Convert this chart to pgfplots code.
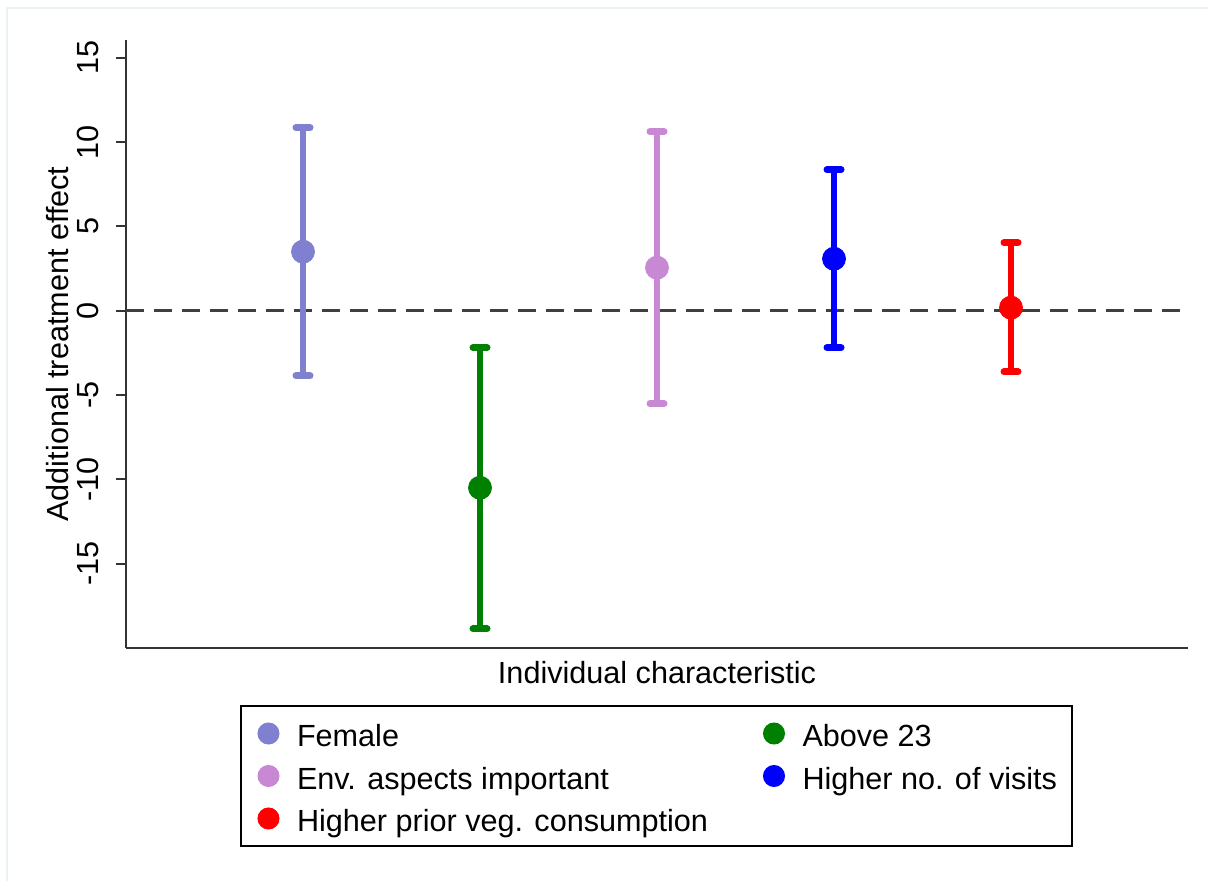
\documentclass[border=0pt]{standalone}
\usepackage{fontspec}
\setmainfont{Liberation Sans}
\usepackage{pgfplots}
\pgfplotsset{compat=1.18}
\definecolor{cfem}{RGB}{128,128,208}
\definecolor{cabove}{RGB}{0,128,0}
\definecolor{cenv}{RGB}{200,136,212}
\definecolor{cvis}{RGB}{0,0,255}
\definecolor{cveg}{RGB}{255,0,0}
\definecolor{cframe}{RGB}{234,242,242}
\newcommand{\fs}{\fontsize{15.3}{18}\selectfont}
\begin{document}
\begin{tikzpicture}
\path[use as bounding box] (0,0) rectangle (604pt,440.5pt);
\draw[line width=1pt, cframe] (3.5pt,0) -- (3.5pt,436.5pt) -- (604pt,436.5pt);
\begin{axis}[
 at={(63pt,116.5pt)}, anchor=south west,
 scale only axis, width=531pt, height=304pt,
 xmin=0, xmax=6, ymin=-20, ymax=16.05,
 axis x line*=bottom, axis y line*=left,
 axis line style={-, line width=1pt, color=black!80},
 xtick=\empty,
 ytick={-15,-10,-5,0,5,10,15},
 yticklabels={-15,-10,-5,0,5,10,15},
 tick align=outside,
 major tick length=5pt,
 every tick/.style={line width=1pt, color=black!80},
 yticklabel style={rotate=90, anchor=south, inner sep=0pt, font=\fs},
 yticklabel shift=8.5pt,
 xlabel={Individual characteristic},
 ylabel={Additional treatment effect},
 every axis x label/.style={at={(axis description cs:0.5,-0.0411)}, anchor=center, font=\fs},
 every axis y label/.style={at={(axis description cs:-0.064,0.5)}, rotate=90, anchor=center, font=\fs},
 clip=false,
 legend columns=2,
 legend cell align=left,
 legend style={at={(axis description cs:0.10734,-0.09375)}, anchor=north west,
   draw=black, line width=1pt, inner xsep=8.75pt, inner ysep=6.75pt, row sep=7.25pt,
   font=\fs, nodes={inner sep=0pt, text height=13.75pt, text depth=0.25pt}},
 legend image code/.code={\draw[#1, mark size=5pt] plot coordinates {(5pt,0pt)}; \path[draw=none, fill=none] (0pt,0pt) (19.25pt,0pt);},
]
\addplot[black!75, line width=1.3pt, dash pattern=on 9pt off 5pt, forget plot] coordinates {(0,0) (6,0)};
% CIs
\addplot[cfem, line width=3pt, forget plot] coordinates {(1,-3.86) (1,10.85)};
\addplot[cfem, only marks, mark=-, mark size=3.5pt, mark options={line width=3.5pt, line cap=round}, forget plot] coordinates {(1,-3.86) (1,10.85)};
\addplot[cabove, line width=3pt, forget plot] coordinates {(2,-18.86) (2,-2.19)};
\addplot[cabove, only marks, mark=-, mark size=3.5pt, mark options={line width=3.5pt, line cap=round}, forget plot] coordinates {(2,-18.86) (2,-2.19)};
\addplot[cenv, line width=3pt, forget plot] coordinates {(3,-5.52) (3,10.62)};
\addplot[cenv, only marks, mark=-, mark size=3.5pt, mark options={line width=3.5pt, line cap=round}, forget plot] coordinates {(3,-5.52) (3,10.62)};
\addplot[cvis, line width=3pt, forget plot] coordinates {(4,-2.19) (4,8.36)};
\addplot[cvis, only marks, mark=-, mark size=3.5pt, mark options={line width=3.5pt, line cap=round}, forget plot] coordinates {(4,-2.19) (4,8.36)};
\addplot[cveg, line width=3pt, forget plot] coordinates {(5,-3.62) (5,4.03)};
\addplot[cveg, only marks, mark=-, mark size=3.5pt, mark options={line width=3.5pt, line cap=round}, forget plot] coordinates {(5,-3.62) (5,4.03)};
% means
\addplot[cfem, only marks, mark=*, mark size=5.75pt] coordinates {(1,3.50)};
\addlegendentry{\makebox[233.5pt][l]{Female}}
\addplot[cabove, only marks, mark=*, mark size=5.75pt] coordinates {(2,-10.50)};
\addlegendentry{\makebox[126pt][l]{Above 23}}
\addplot[cenv, only marks, mark=*, mark size=5.75pt] coordinates {(3,2.55)};
\addlegendentry{\makebox[233.5pt][l]{Env. aspects important}}
\addplot[cvis, only marks, mark=*, mark size=5.75pt] coordinates {(4,3.08)};
\addlegendentry{\makebox[126pt][l]{Higher no. of visits}}
\addplot[cveg, only marks, mark=*, mark size=5.75pt] coordinates {(5,0.18)};
\addlegendentry{\makebox[233.5pt][l]{Higher prior veg. consumption}}
\end{axis}
\end{tikzpicture}
\end{document}
